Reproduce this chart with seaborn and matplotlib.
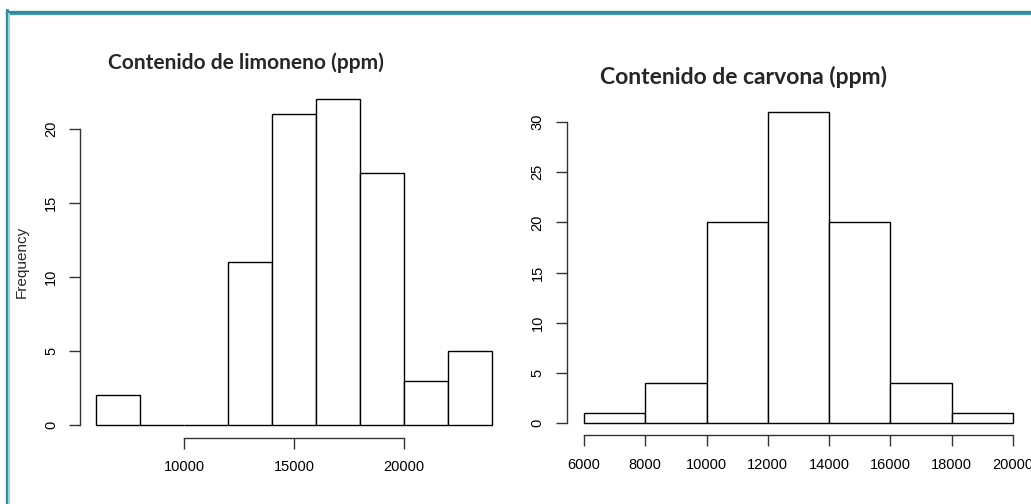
import numpy as np
import pandas as pd
import seaborn as sns
import matplotlib
matplotlib.use("Agg")
import matplotlib.pyplot as plt
from matplotlib.lines import Line2D

# Histogram bins (ppm) and counts
limoneno_edges = [6000, 8000, 10000, 12000, 14000, 16000, 18000, 20000, 22000, 24000]
limoneno_counts = [2, 0, 0, 11, 21, 22, 17, 3, 5]
limoneno_xticks = [10000, 15000, 20000]
limoneno_yticks = [0, 5, 10, 15, 20]

carvona_edges = [6000, 8000, 10000, 12000, 14000, 16000, 18000, 20000]
carvona_counts = [1, 4, 20, 31, 20, 4, 1]
carvona_xticks = [6000, 8000, 10000, 12000, 14000, 16000, 18000, 20000]
carvona_yticks = [0, 5, 10, 15, 20, 25, 30]

title_limoneno = "Contenido de limoneno (ppm)"
title_carvona = "Contenido de carvona (ppm)"

sns.set_theme(style="white")
plt.rcParams["font.family"] = ["Liberation Sans", "DejaVu Sans"]

W, H = 1031, 504
fig = plt.figure(figsize=(W / 100, H / 100), dpi=100)
fig.patch.set_facecolor("white")


def px_axes(x0, y0, x1, y1):
    """Axes from pixel box (left, top, right, bottom)."""
    return fig.add_axes([x0 / W, 1 - y1 / H, (x1 - x0) / W, (y1 - y0) / H])


def r_hist(ax, edges, counts, xticks, yticks, ylabel=None):
    df = pd.DataFrame({"x": edges[:-1], "n": counts})
    sns.histplot(data=df, x="x", weights="n", bins=edges, ax=ax,
                 color="white", edgecolor="black", linewidth=1.0, alpha=1)
    span = edges[-1] - edges[0]
    ax.set_xlim(edges[0] - 0.04 * span, edges[-1] + 0.04 * span)
    top = max(yticks[-1], max(counts))
    ax.set_ylim(-0.04 * top, top * 1.04)
    for s in ("top", "right"):
        ax.spines[s].set_visible(False)
    for s in ("left", "bottom"):
        ax.spines[s].set_color("#333333")
        ax.spines[s].set_linewidth(1.0)
    ax.spines["bottom"].set_bounds(xticks[0], xticks[-1])
    ax.spines["left"].set_bounds(yticks[0], yticks[-1])
    ax.set_xticks(xticks)
    ax.set_yticks(yticks)
    ax.set_xticklabels([str(v) for v in xticks])
    ax.set_yticklabels([str(v) for v in yticks], rotation=90, va="center")
    ax.tick_params(axis="both", direction="out", length=8, width=1.0,
                   color="#333333", labelsize=10.5, labelcolor="black",
                   bottom=True, left=True)
    ax.tick_params(axis="x", pad=8)
    ax.tick_params(axis="y", pad=8)
    ax.set_xlabel("")
    ax.set_ylabel(ylabel if ylabel else "", fontsize=11, labelpad=11)
    ax.patch.set_alpha(0)
    ax.grid(False)


ax1 = px_axes(80.2, 86.4, 507.8, 438)
r_hist(ax1, limoneno_edges, limoneno_counts, limoneno_xticks, limoneno_yticks,
       ylabel="Frequency")

ax2 = px_axes(566.8, 99.6, 1030.2, 435.4)
r_hist(ax2, carvona_edges, carvona_counts, carvona_xticks, carvona_yticks)

# Titles
fig.text(245.5 / W, 1 - 63 / H, title_limoneno, ha="center", va="center",
         fontsize=15, fontweight="bold", family=["Lato", "DejaVu Sans"])
fig.text(743 / W, 1 - 77 / H, title_carvona, ha="center", va="center",
         fontsize=16.5, fontweight="bold", family=["Lato", "DejaVu Sans"])

# Slide frame (top and left edges)
dark = "#2f8aa0"
light = "#9fd0dc"
fig.add_artist(Line2D([6.5 / W, 1], [1 - 11.5 / H, 1 - 11.5 / H],
                      transform=fig.transFigure, color=dark, lw=2.4))
fig.add_artist(Line2D([9 / W, 1], [1 - 14.3 / H, 1 - 14.3 / H],
                      transform=fig.transFigure, color="#4a9cb0", lw=0.9))
fig.add_artist(Line2D([6.5 / W, 6.5 / W], [0, 1 - 10.3 / H],
                      transform=fig.transFigure, color=dark, lw=2.4))
fig.add_artist(Line2D([9.3 / W, 9.3 / W], [0, 1 - 13.5 / H],
                      transform=fig.transFigure, color=light, lw=1.6))

fig.savefig("out.png", dpi=100)
